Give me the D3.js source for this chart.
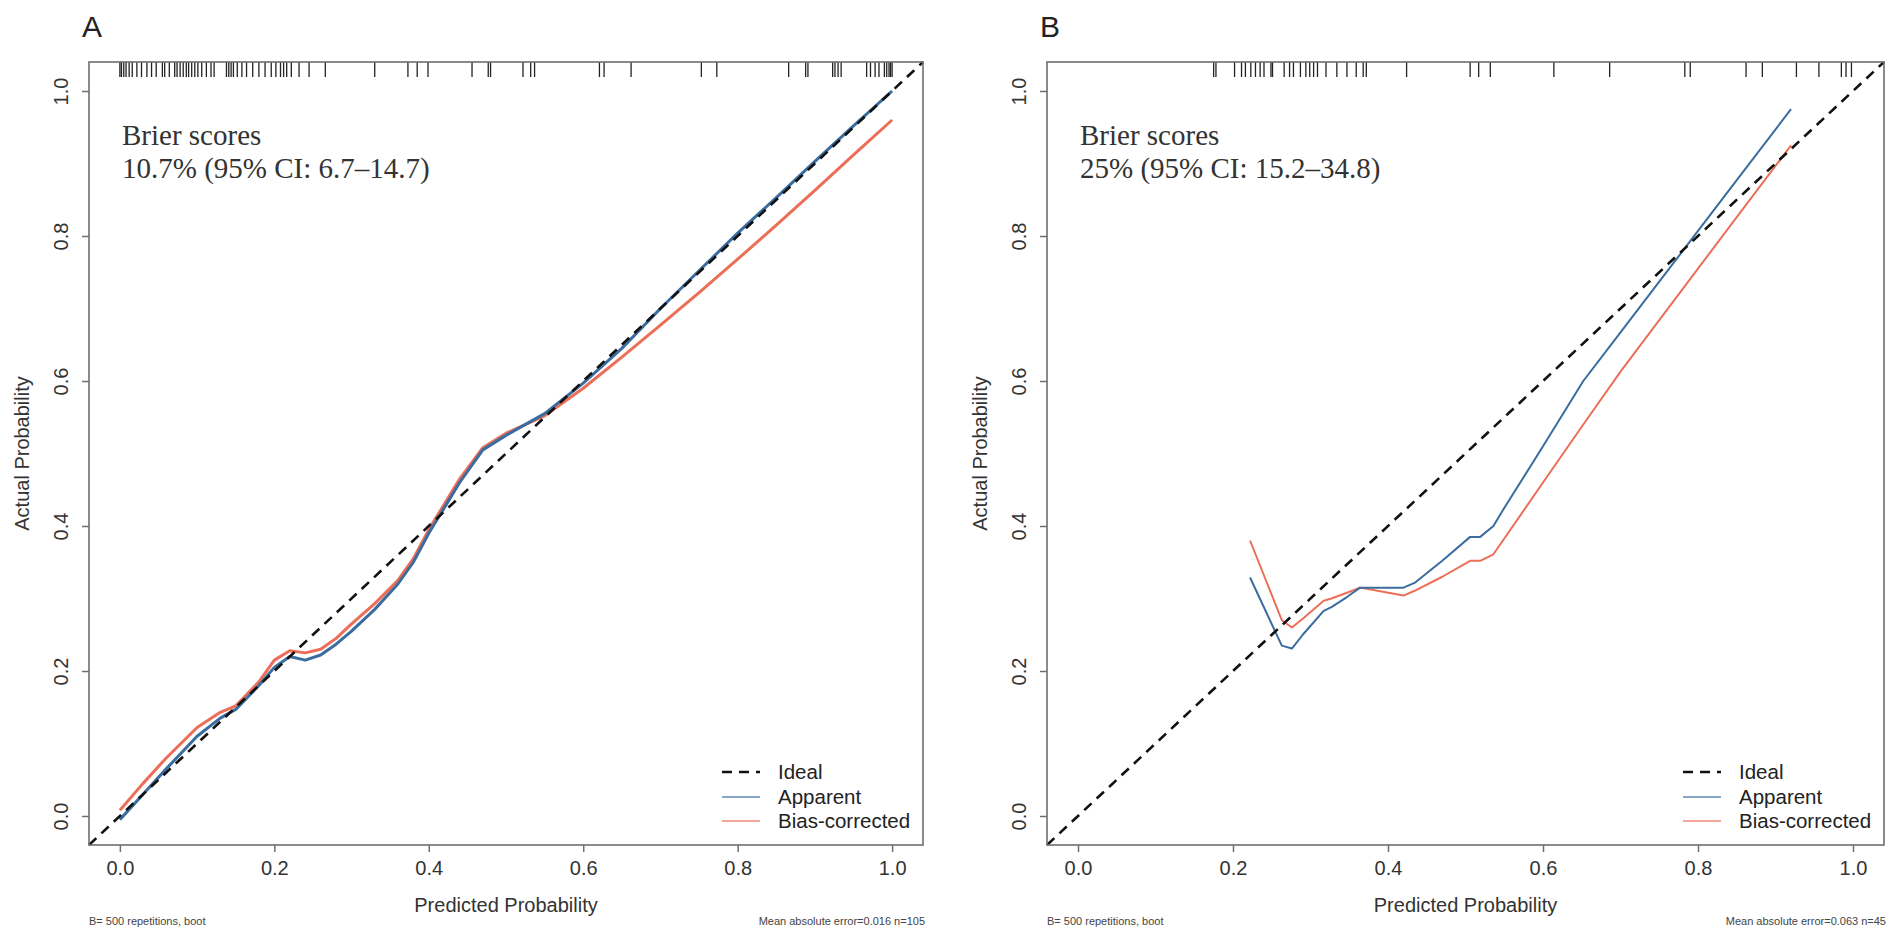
<!DOCTYPE html>
<html>
<head>
<meta charset="utf-8">
<script src="https://cdn.jsdelivr.net/npm/d3@7"></script>
<style>
  body { margin: 0; background: #fff; }
  svg { display: block; }
</style>
</head>
<body>
<script>
// chart values
var tickValues = [0, 0.2, 0.4, 0.6, 0.8, 1.0];
var legendLabels = ["Ideal", "Apparent", "Bias-corrected"];

// panel A
var predA = [0, 0.03, 0.06, 0.10, 0.13, 0.15, 0.18, 0.20, 0.22, 0.24, 0.26, 0.28, 0.30, 0.33, 0.36, 0.38, 0.40, 0.42, 0.44, 0.47, 0.50, 0.55, 0.60, 0.65, 0.70, 0.75, 0.80, 0.85, 0.90, 0.95, 1.00];
var apparentA = [-0.005, 0.03, 0.065, 0.11, 0.135, 0.147, 0.18, 0.205, 0.22, 0.215, 0.222, 0.237, 0.255, 0.285, 0.32, 0.35, 0.39, 0.425, 0.46, 0.505, 0.525, 0.555, 0.597, 0.645, 0.70, 0.752, 0.804, 0.853, 0.903, 0.952, 1.0];
var biasA = [0.008, 0.045, 0.08, 0.122, 0.143, 0.152, 0.185, 0.215, 0.228, 0.225, 0.23, 0.245, 0.265, 0.293, 0.325, 0.355, 0.395, 0.43, 0.465, 0.508, 0.528, 0.552, 0.59, 0.633, 0.677, 0.722, 0.768, 0.815, 0.863, 0.912, 0.96];
var rugA = [0.000, 0.002, 0.005, 0.008, 0.012, 0.016, 0.022, 0.028, 0.035, 0.041, 0.047, 0.055, 0.058, 0.064, 0.071, 0.074, 0.078, 0.082, 0.086, 0.089, 0.093, 0.097, 0.101, 0.106, 0.112, 0.118, 0.122, 0.138, 0.141, 0.144, 0.147, 0.152, 0.158, 0.164, 0.172, 0.180, 0.188, 0.196, 0.202, 0.208, 0.212, 0.216, 0.222, 0.232, 0.245, 0.266, 0.330, 0.373, 0.385, 0.399, 0.456, 0.477, 0.480, 0.522, 0.532, 0.537, 0.621, 0.627, 0.662, 0.753, 0.773, 0.866, 0.888, 0.891, 0.923, 0.926, 0.930, 0.934, 0.967, 0.972, 0.978, 0.983, 0.990, 0.993, 0.996, 0.998, 1.000];
var brierA = ["Brier scores", "10.7% (95% CI: 6.7\u201314.7)"];
var footA = ["B= 500 repetitions, boot", "Mean absolute error=0.016 n=105"];

// panel B
var predB = [0.222, 0.263, 0.276, 0.29, 0.317, 0.327, 0.347, 0.364, 0.39, 0.42, 0.435, 0.47, 0.506, 0.519, 0.536, 0.549, 0.60, 0.652, 0.70, 0.75, 0.80, 0.85, 0.92];
var apparentB = [0.329, 0.235, 0.231, 0.25, 0.283, 0.288, 0.302, 0.315, 0.315, 0.315, 0.322, 0.352, 0.385, 0.385, 0.40, 0.423, 0.51, 0.60, 0.667, 0.737, 0.807, 0.877, 0.975];
var biasB = [0.38, 0.27, 0.26, 0.272, 0.297, 0.30, 0.308, 0.315, 0.31, 0.304, 0.311, 0.33, 0.352, 0.352, 0.361, 0.381, 0.46, 0.54, 0.613, 0.684, 0.755, 0.826, 0.925];
var rugB = [0.175, 0.178, 0.202, 0.211, 0.216, 0.223, 0.229, 0.235, 0.240, 0.249, 0.251, 0.266, 0.273, 0.278, 0.287, 0.294, 0.299, 0.304, 0.309, 0.320, 0.334, 0.347, 0.359, 0.368, 0.372, 0.424, 0.506, 0.517, 0.532, 0.614, 0.686, 0.783, 0.790, 0.862, 0.883, 0.927, 0.956, 0.985, 0.991, 0.998];
var brierB = ["Brier scores", "25% (95% CI: 15.2\u201334.8)"];
var footB = ["B= 500 repetitions, boot", "Mean absolute error=0.063 n=45"];

var blue = "#3a6c9f";
var red = "#ec6e58";
var frameColor = "#6e6e6e";
var textColor = "#333";

var svg = d3.select("body").append("svg")
    .attr("width", 1902)
    .attr("height", 944);

function drawPanel(p) {
    var x = d3.scaleLinear().domain([-0.04, 1.04]).range([p.left, p.right]);
    var y = d3.scaleLinear().domain([-0.04, 1.04]).range([p.bottom, p.top]);
    var g = svg.append("g");

    // panel letter
    g.append("text")
        .attr("x", p.left - 7)
        .attr("y", 37)
        .attr("font-family", "Liberation Sans, Arial, sans-serif")
        .attr("font-size", "30px")
        .attr("fill", "#222")
        .text(p.label);

    // axes
    var xAxis = d3.axisBottom(x).tickValues(tickValues).tickSize(7).tickPadding(9)
        .tickFormat(d3.format(".1f"));
    var gx = g.append("g")
        .attr("transform", `translate(0, ${p.bottom})`)
        .call(xAxis);
    gx.select(".domain").remove();
    gx.selectAll("line").attr("stroke", frameColor).attr("stroke-width", 1.5);
    gx.selectAll("text")
        .attr("font-family", "Liberation Sans, Arial, sans-serif")
        .attr("font-size", "20px")
        .attr("fill", textColor);

    var yAxis = d3.axisLeft(y).tickValues(tickValues).tickSize(7)
        .tickFormat(d3.format(".1f"));
    var gy = g.append("g")
        .attr("transform", `translate(${p.left}, 0)`)
        .call(yAxis);
    gy.select(".domain").remove();
    gy.selectAll("line").attr("stroke", frameColor).attr("stroke-width", 1.5);
    gy.selectAll("text")
        .attr("transform", "rotate(-90)")
        .attr("x", 0)
        .attr("y", -28)
        .attr("dy", "0.35em")
        .attr("text-anchor", "middle")
        .attr("font-family", "Liberation Sans, Arial, sans-serif")
        .attr("font-size", "20px")
        .attr("fill", textColor);

    // axis titles
    g.append("text")
        .attr("x", x(0.5))
        .attr("y", 912)
        .attr("text-anchor", "middle")
        .attr("font-family", "Liberation Sans, Arial, sans-serif")
        .attr("font-size", "20px")
        .attr("fill", textColor)
        .text("Predicted Probability");

    g.append("text")
        .attr("transform", `translate(${p.left - 60}, ${y(0.5)}) rotate(-90)`)
        .attr("text-anchor", "middle")
        .attr("font-family", "Liberation Sans, Arial, sans-serif")
        .attr("font-size", "20px")
        .attr("fill", textColor)
        .text("Actual Probability");

    // footnotes
    g.append("text")
        .attr("x", p.left)
        .attr("y", 925)
        .attr("font-family", "Liberation Sans, Arial, sans-serif")
        .attr("font-size", "11px")
        .attr("fill", "#444")
        .text(p.foot[0]);
    g.append("text")
        .attr("x", p.right + 2)
        .attr("y", 925)
        .attr("text-anchor", "end")
        .attr("font-family", "Liberation Sans, Arial, sans-serif")
        .attr("font-size", "11px")
        .attr("fill", "#444")
        .text(p.foot[1]);

    // rug of predicted probabilities along the top
    g.selectAll(".rug")
        .data(p.rug)
        .enter()
        .append("line")
        .attr("x1", d => x(d))
        .attr("x2", d => x(d))
        .attr("y1", p.top)
        .attr("y2", p.top + 15)
        .attr("stroke", "#222")
        .attr("stroke-width", 1.3);

    // calibration curves
    var line = d3.line()
        .x(d => x(d[0]))
        .y(d => y(d[1]));

    g.append("path")
        .datum(d3.zip(p.pred, p.bias))
        .attr("fill", "none")
        .attr("stroke", red)
        .attr("stroke-width", p.lw)
        .attr("stroke-linejoin", "round")
        .attr("d", line);

    g.append("path")
        .datum(d3.zip(p.pred, p.apparent))
        .attr("fill", "none")
        .attr("stroke", blue)
        .attr("stroke-width", p.lw)
        .attr("stroke-linejoin", "round")
        .attr("d", line);

    // ideal line corner to corner
    g.append("path")
        .datum([[-0.04, -0.04], [1.04, 1.04]])
        .attr("fill", "none")
        .attr("stroke", "#111")
        .attr("stroke-width", 2.6)
        .attr("stroke-dasharray", "10,7")
        .attr("d", line);

    // frame
    g.append("rect")
        .attr("x", p.left)
        .attr("y", p.top)
        .attr("width", p.right - p.left)
        .attr("height", p.bottom - p.top)
        .attr("fill", "none")
        .attr("stroke", frameColor)
        .attr("stroke-width", 1.6);

    // Brier score note
    g.selectAll(".brier")
        .data(p.brier)
        .enter()
        .append("text")
        .attr("x", p.left + 33)
        .attr("y", (d, i) => p.top + 83 + i * 33)
        .attr("font-family", "Liberation Serif, Times New Roman, serif")
        .attr("font-size", "29px")
        .attr("fill", "#333")
        .text(d => d);

    // legend, bottom right, no box
    var legendStyles = [
        { color: "#111", width: 2.6, dash: "10,7" },
        { color: blue, width: 1.6, dash: null },
        { color: red, width: 1.6, dash: null }
    ];
    var rowY = [p.bottom - 73, p.bottom - 48, p.bottom - 24];
    legendLabels.forEach(function (lab, i) {
        g.append("line")
            .attr("x1", p.right - 201)
            .attr("x2", p.right - 163)
            .attr("y1", rowY[i])
            .attr("y2", rowY[i])
            .attr("stroke", legendStyles[i].color)
            .attr("stroke-width", legendStyles[i].width)
            .attr("stroke-dasharray", legendStyles[i].dash)
            .attr("opacity", i === 0 ? 1 : 0.8);
        g.append("text")
            .attr("x", p.right - 145)
            .attr("y", rowY[i])
            .attr("dy", "0.35em")
            .attr("font-family", "Liberation Sans, Arial, sans-serif")
            .attr("font-size", "20.5px")
            .attr("fill", "#222")
            .text(lab);
    });
}

drawPanel({
    label: "A", left: 89, right: 923, top: 62, bottom: 845, lw: 3,
    pred: predA, apparent: apparentA, bias: biasA, rug: rugA,
    brier: brierA, foot: footA
});

drawPanel({
    label: "B", left: 1047, right: 1884, top: 62, bottom: 845, lw: 2,
    pred: predB, apparent: apparentB, bias: biasB, rug: rugB,
    brier: brierB, foot: footB
});
</script>
</body>
</html>
